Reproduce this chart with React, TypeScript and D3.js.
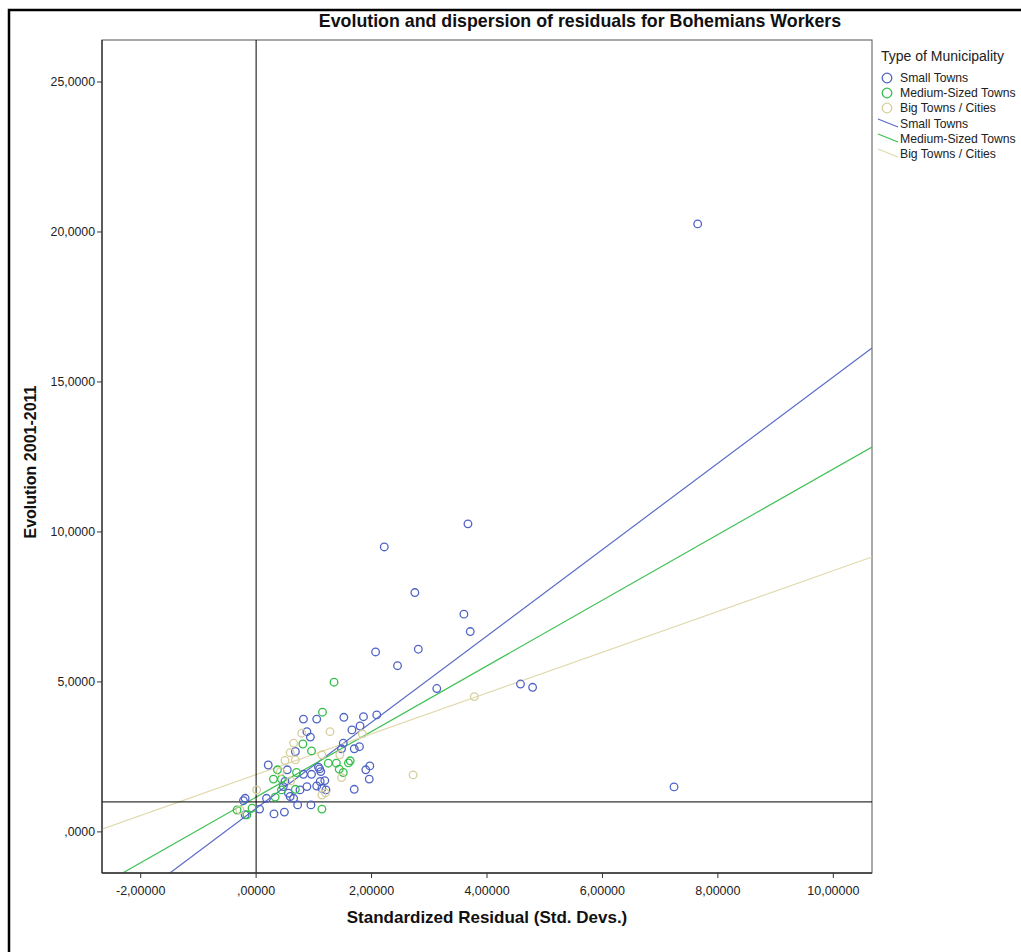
import React from "react";
import * as d3 from "d3";

// ---- Data ----
const groups = ["Small Towns", "Medium-Sized Towns", "Big Towns / Cities"];
const groupColors = ["#4f63c4", "#34bf4a", "#d6cf9c"];
const lineColors = ["#5a6cc8", "#3cc152", "#e0d9ad"];

const smallTowns: [number, number][] = [
  [7.65, 20.27], [7.24, 1.5], [3.67, 10.27], [2.22, 9.5], [2.75, 7.98], [3.6, 7.26],
  [3.71, 6.68], [2.07, 6.0], [2.81, 6.09], [2.45, 5.54], [3.13, 4.78], [4.58, 4.93],
  [4.79, 4.82],
  [0.82, 3.76], [1.05, 3.76], [1.52, 3.82], [1.86, 3.84], [2.09, 3.9], [1.8, 3.53],
  [1.66, 3.4], [0.88, 3.34], [0.94, 3.16], [0.68, 2.68], [1.51, 2.96], [1.7, 2.77],
  [1.79, 2.84], [1.08, 2.16], [0.21, 2.23], [0.54, 2.07], [0.82, 1.92], [0.96, 1.92],
  [1.9, 2.07], [1.97, 2.2], [1.96, 1.76], [1.12, 2.01], [0.5, 1.68], [0.47, 1.51],
  [0.56, 1.29], [0.59, 1.18], [0.65, 1.12], [0.88, 1.51], [0.76, 1.4], [1.05, 1.53],
  [1.11, 1.68], [1.19, 1.71], [1.14, 1.45], [1.21, 1.4], [1.7, 1.42], [0.18, 1.12],
  [-0.19, 1.12], [-0.22, 1.04], [-0.19, 0.57], [0.06, 0.76], [0.31, 0.6], [0.49, 0.66],
  [0.72, 0.9], [0.95, 0.9], [1.48, 2.77], [1.1, 2.1]
];

const mediumTowns: [number, number][] = [
  [1.35, 4.99], [1.15, 3.99], [0.81, 2.93], [0.96, 2.7], [1.25, 2.29], [1.39, 2.29],
  [1.63, 2.37], [1.6, 2.3], [0.37, 2.07], [0.7, 1.98], [1.51, 1.98], [1.44, 2.09],
  [0.3, 1.76], [0.44, 1.76], [0.44, 1.4], [0.68, 1.42], [0.33, 1.16], [-0.33, 0.73],
  [-0.07, 0.79], [-0.16, 0.57], [1.14, 0.76]
];

const bigTowns: [number, number][] = [
  [3.78, 4.51], [2.72, 1.9], [1.28, 3.34], [0.79, 3.29], [0.65, 2.96], [0.59, 2.64],
  [0.68, 2.4], [0.5, 2.38], [1.14, 2.57], [1.45, 2.57], [0.42, 2.01], [1.48, 1.81],
  [1.14, 1.23], [1.2, 1.3], [0.01, 1.4], [-0.28, 0.73], [1.84, 3.27], [0.6, 1.7]
];

// Fit lines: intercept and slope per group
const fitIntercepts = [0.78, 1.16, 1.91];
const fitSlopes = [1.439, 1.094, 0.68];

const xTicks = [-2, 0, 2, 4, 6, 8, 10];
const yTicks = [0, 5, 10, 15, 20, 25];
const xDomain = [-2.67, 10.67];
const yDomain = [-1.37, 26.4];
const refX = 0;
const refY = 1;

const title = "Evolution and dispersion of residuals for Bohemians Workers";
const xTitle = "Standardized Residual (Std. Devs.)";
const yTitle = "Evolution 2001-2011";
const legendTitle = "Type of Municipality";

const FONT = "Arial, 'Liberation Sans', Helvetica, sans-serif";

function fmt(v: number, digits: number) {
  let s = d3.format(`.${digits}f`)(v).replace(".", ",").replace("−", "-");
  if (s.startsWith("0,")) s = s.slice(1);
  return s;
}

export default function App() {
  const left = 102, right = 872, top = 40, bottom = 873;
  const x = d3.scaleLinear().domain(xDomain).range([left, right]);
  const y = d3.scaleLinear().domain(yDomain).range([bottom, top]);
  const series = [smallTowns, mediumTowns, bigTowns];

  return (
    <svg
      width={1021}
      height={952}
      style={{ position: "absolute", left: 0, top: 0, background: "#fff" }}
      fontFamily={FONT}
    >
      <rect x={0} y={0} width={1021} height={952} fill="#fff" />
      {/* outer frame */}
      <rect x={9} y={10} width={1200} height={1200} fill="none" stroke="#000" strokeWidth={2.5} />

      {/* title */}
      <text x={580} y={27} textAnchor="middle" fontSize={17.8} fontWeight="bold" fill="#111">
        {title}
      </text>

      <defs>
        <clipPath id="plotClip">
          <rect x={left} y={top} width={right - left} height={bottom - top} />
        </clipPath>
      </defs>

      {/* plot frame */}
      <rect x={left} y={top} width={right - left} height={bottom - top} fill="none" stroke="#555" strokeWidth={1} />

      <g clipPath="url(#plotClip)">
        {/* fit lines */}
        {fitIntercepts.map((b, i) => {
          const line = d3.line<number>().x((d) => x(d)).y((d) => y(b + fitSlopes[i] * d));
          return (
            <path key={"fl" + i} d={line(xDomain) || ""} fill="none" stroke={lineColors[i]} strokeWidth={1.2} />
          );
        })}
        {/* reference lines */}
        <line x1={x(refX)} x2={x(refX)} y1={top} y2={bottom} stroke="#000" strokeWidth={1} />
        <line x1={left} x2={right} y1={y(refY)} y2={y(refY)} stroke="#000" strokeWidth={1} />
        {/* points */}
        {series.map((pts, gi) =>
          pts.map((p, j) => (
            <circle
              key={gi + "-" + j}
              cx={x(p[0])}
              cy={y(p[1])}
              r={3.8}
              fill="none"
              stroke={groupColors[gi]}
              strokeWidth={1.3}
            />
          ))
        )}
      </g>

      {/* x axis */}
      <line x1={left} x2={right} y1={bottom} y2={bottom} stroke="#333" strokeWidth={1.3} />
      {xTicks.map((t) => (
        <g key={"xt" + t}>
          <line x1={x(t)} x2={x(t)} y1={bottom} y2={bottom + 5} stroke="#333" strokeWidth={1} />
          <text x={x(t)} y={bottom + 22} textAnchor="middle" fontSize={12.5} fill="#222">
            {fmt(t, 5)}
          </text>
        </g>
      ))}
      <text x={(left + right) / 2} y={923} textAnchor="middle" fontSize={17} fontWeight="bold" fill="#111">
        {xTitle}
      </text>

      {/* y axis */}
      <line x1={left} x2={left} y1={top} y2={bottom} stroke="#333" strokeWidth={1.3} />
      {yTicks.map((t) => (
        <g key={"yt" + t}>
          <line x1={left - 5} x2={left} y1={y(t)} y2={y(t)} stroke="#333" strokeWidth={1} />
          <text x={left - 7} y={y(t) + 4} textAnchor="end" fontSize={12.3} fill="#222">
            {fmt(t, 4)}
          </text>
        </g>
      ))}
      <text
        transform={`translate(36, 462) rotate(-90)`}
        textAnchor="middle"
        fontSize={16}
        fontWeight="bold"
        fill="#111"
      >
        {yTitle}
      </text>

      {/* legend */}
      <text x={881} y={61} fontSize={14} fill="#222">
        {legendTitle}
      </text>
      {groups.map((g, i) => (
        <g key={"lc" + i}>
          <circle cx={887} cy={78 + i * 15} r={4.8} fill="none" stroke={groupColors[i]} strokeWidth={1.3} />
          <text x={900} y={82 + i * 15} fontSize={12.2} fill="#222">
            {g}
          </text>
        </g>
      ))}
      {groups.map((g, i) => (
        <g key={"ll" + i}>
          <line
            x1={878}
            y1={119 + i * 15}
            x2={898}
            y2={127 + i * 15}
            stroke={lineColors[i]}
            strokeWidth={1.2}
          />
          <text x={900} y={128 + i * 15} fontSize={12.2} fill="#222">
            {g}
          </text>
        </g>
      ))}
    </svg>
  );
}
